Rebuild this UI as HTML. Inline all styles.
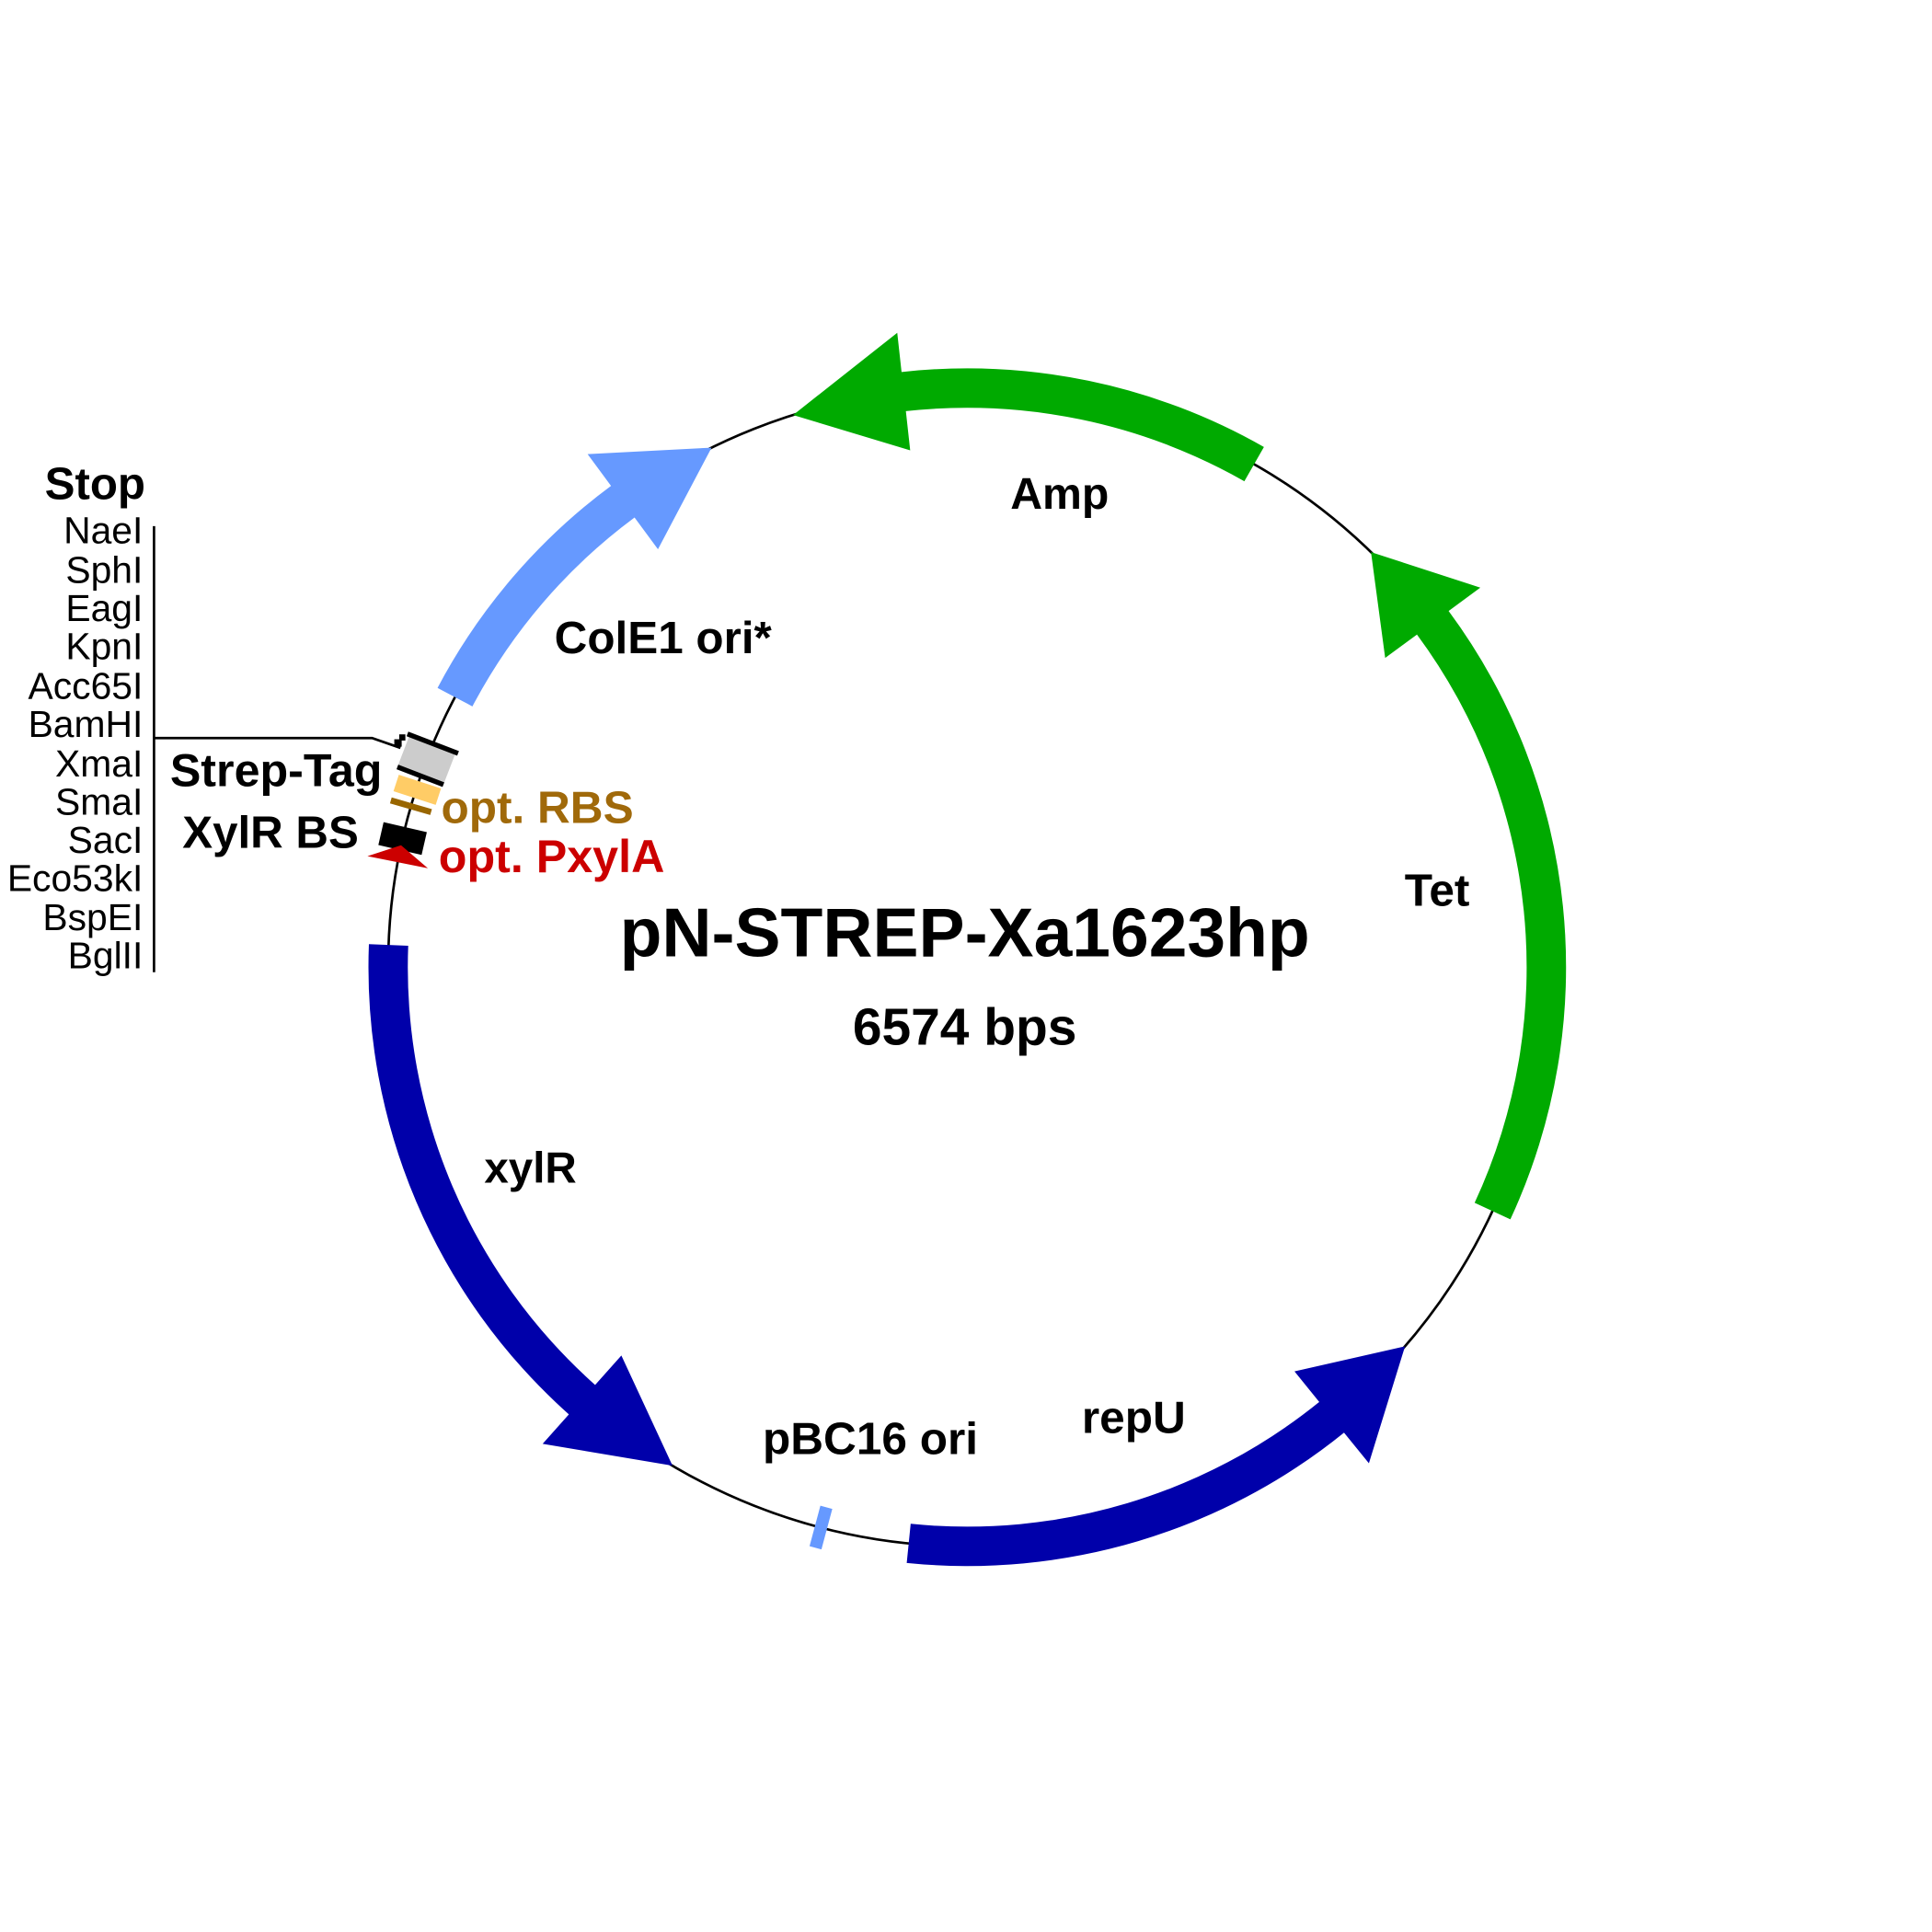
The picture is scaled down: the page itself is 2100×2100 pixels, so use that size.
<!DOCTYPE html>
<html><head><meta charset="utf-8"><style>
html,body{margin:0;padding:0;background:#fff}
svg{display:block}
text{font-family:"Liberation Sans",Arial,sans-serif}
</style></head><body>
<svg id="s" width="2100" height="2100" viewBox="0 0 1568 1568" xmlns="http://www.w3.org/2000/svg">
<circle cx="785" cy="785" r="470" fill="none" stroke="#000" stroke-width="2"/>
<g id="feat"></g>
<g transform="rotate(-69 785 785)">
  <rect x="770" y="295" width="30" height="40" fill="#ccc"/>
  <rect x="797" y="293" width="4" height="44" fill="#000"/>
  <rect x="769" y="295" width="4" height="40" fill="#000"/>
</g>
<g transform="rotate(-72 785 785)"><rect x="777" y="298" width="14" height="36" fill="#ffcc66"/></g>
<g transform="rotate(-73.8 785 785)"><rect x="782" y="298" width="5" height="34" fill="#996600"/></g>
<g transform="rotate(-77.1 785 785)"><rect x="775" y="297" width="19" height="36" fill="#000"/></g>
<g transform="rotate(-78.7 785 785)"><polygon points="778,290 778,340 792,315" fill="#cc0000"/></g>
<g transform="rotate(195 785 785)"><rect x="777" y="298" width="10" height="34" fill="#6699ff"/></g>
<rect x="320" y="600" width="6" height="6" fill="#000"/>
<rect x="324" y="596" width="5" height="5" fill="#000"/>
<text x="118" y="405" font-size="36.8" font-weight="bold" text-anchor="end">Stop</text>
<g font-size="30.5" text-anchor="end">
<text x="116" y="441">NaeI</text><text x="116" y="473">SphI</text><text x="116" y="504">EagI</text>
<text x="116" y="535">KpnI</text><text x="116" y="567">Acc65I</text><text x="116" y="598">BamHI</text>
<text x="116" y="630">XmaI</text><text x="116" y="661">SmaI</text><text x="116" y="692">SacI</text>
<text x="116" y="723">Eco53kI</text><text x="116" y="755">BspEI</text><text x="116" y="786">BglII</text>
</g>
<line x1="125" y1="427" x2="125" y2="789" stroke="#000" stroke-width="2"/>
<polyline points="125,599 302,599 325,607" fill="none" stroke="#000" stroke-width="2"/>
<g font-weight="bold">
<text x="138" y="638" font-size="37.5">Strep-Tag</text>
<text x="148" y="688" font-size="36.8">XylR BS</text>
<text x="358" y="668" font-size="37" fill="#a0690a">opt. RBS</text>
<text x="356" y="708" font-size="37.5" fill="#cc0000">opt. PxylA</text>
<text x="820" y="413" font-size="36">Amp</text>
<text x="450" y="530" font-size="36.9">ColE1 ori*</text>
<text x="1140" y="735" font-size="37">Tet</text>
<text x="393" y="960" font-size="35.5">xylR</text>
<text x="619" y="1180" font-size="37">pBC16 ori</text>
<text x="878" y="1163" font-size="37">repU</text>
<text x="783" y="776" font-size="56" text-anchor="middle">pN-STREP-Xa1623hp</text>
<text x="783" y="848" font-size="42.5" text-anchor="middle">6574 bps</text>
</g>
</svg>
<script>
(function(){
var cx=785,cy=785,R=470,bw=16,hw=48;
function P(r,a){a=a*Math.PI/180;return (cx+r*Math.sin(a)).toFixed(1)+" "+(cy-r*Math.cos(a)).toFixed(1);}
function arrow(s,b,t,col){
 var cw=b>s?1:0, la=Math.abs(b-s)>180?1:0;
 var d="M"+P(R+bw,s)+" A"+(R+bw)+" "+(R+bw)+" 0 "+la+" "+cw+" "+P(R+bw,b)+" L"+P(R+hw,b)+" L"+P(R,t)+" L"+P(R-hw,b)+" L"+P(R-bw,b)+
  " A"+(R-bw)+" "+(R-bw)+" 0 "+la+" "+(1-cw)+" "+P(R-bw,s)+" Z";
 return '<path d="'+d+'" fill="'+col+'"/>';
}
var h='';
h+=arrow(29.7,-6.3,-17.5,'#00aa00');
h+=arrow(114.9,53.5,44.2,'#00aa00');
h+=arrow(-62.2,-36.5,-26.2,'#6699ff');
h+=arrow(272.2,221.7,210.6,'#0000aa');
h+=arrow(185.8,141,130.9,'#0000aa');
document.getElementById('feat').innerHTML=h;
})();
</script>
</body></html>
